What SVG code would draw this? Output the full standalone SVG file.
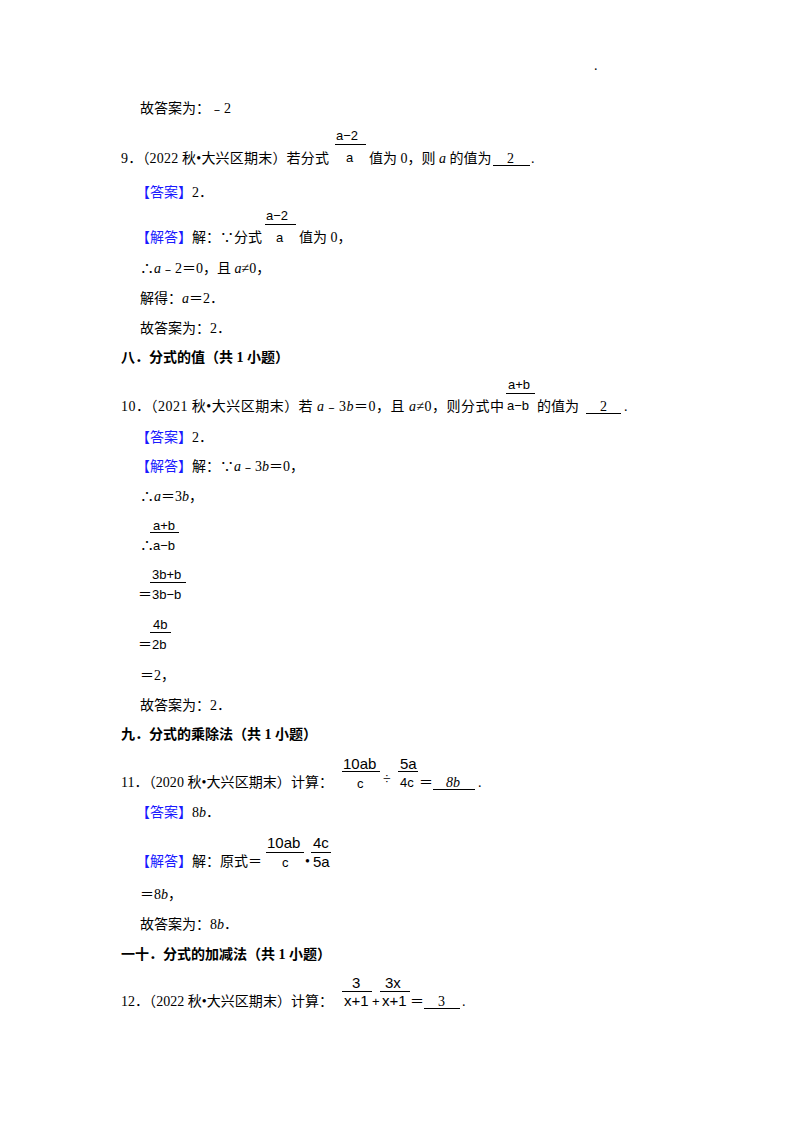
<svg xmlns="http://www.w3.org/2000/svg" width="800" height="1132" viewBox="0 0 800 1132">
<style>
text{font-family:"Liberation Serif","Noto Sans CJK SC",serif;font-size:14px;fill:#000}
.b{font-weight:bold}
.bl{fill:#1a1aff}
.i{font-style:italic}
.f{font-family:"Liberation Sans","Noto Sans CJK SC",sans-serif;font-size:13px}
.fb{font-family:"Liberation Sans",sans-serif;font-size:15px}
line{stroke:#000;stroke-width:1}
</style>
<rect width="800" height="1132" fill="#fff"/>
<text x="594" y="70" font-size="8">.</text>
<text x="140" y="113">故答案为：﹣2</text>

<text x="121" y="163" textLength="208" lengthAdjust="spacing">9．（2022 秋•大兴区期末）若分式</text>
<text class="f" x="336" y="140">a−2</text><line x1="335" y1="144.5" x2="366" y2="144.5"/>
<text class="f" x="346" y="162">a</text>
<text x="369" y="163">值为 0，则 <tspan class="i">a</tspan> 的值为</text>
<line x1="493" y1="165.5" x2="530" y2="165.5"/><text x="507" y="163">2</text><text x="531" y="163">.</text>

<text x="136" y="197"><tspan class="bl">【答案】</tspan>2．</text>
<text class="f" x="266" y="220">a−2</text><line x1="265" y1="224.5" x2="296" y2="224.5"/>
<text class="f" x="276" y="242">a</text>
<text x="136" y="242"><tspan class="bl">【解答】</tspan>解：∵分式</text>
<text x="299" y="242">值为 0，</text>
<text x="140" y="273">∴<tspan class="i">a</tspan>﹣2＝0，且 <tspan class="i">a</tspan>≠0，</text>
<text x="140" y="303">解得：<tspan class="i">a</tspan>＝2．</text>
<text x="140" y="333">故答案为：2．</text>
<text class="b" x="121" y="362">八．分式的值（共 1 小题）</text>

<text x="121" y="411" textLength="383" lengthAdjust="spacing">10．（2021 秋•大兴区期末）若 <tspan class="i">a</tspan>﹣3<tspan class="i">b</tspan>＝0，且 <tspan class="i">a</tspan>≠0，则分式中</text>
<text class="f" x="508" y="389">a+b</text><line x1="506" y1="393.5" x2="535" y2="393.5"/>
<text class="f" x="507" y="410">a−b</text>
<text x="537" y="411">的值为</text>
<line x1="586" y1="413.5" x2="621" y2="413.5"/><text x="600" y="411">2</text><text x="624" y="411">.</text>

<text x="136" y="442"><tspan class="bl">【答案】</tspan>2．</text>
<text x="136" y="471"><tspan class="bl">【解答】</tspan>解：∵<tspan class="i">a</tspan>﹣3<tspan class="i">b</tspan>＝0，</text>
<text x="140" y="501">∴<tspan class="i">a</tspan>＝3<tspan class="i">b</tspan>，</text>
<text class="f" x="153" y="530">a+b</text><line x1="150" y1="532.5" x2="179" y2="532.5"/>
<text x="140" y="550">∴</text><text class="f" x="153" y="550">a−b</text>
<text class="f" x="152" y="579">3b+b</text><line x1="150" y1="582.5" x2="186" y2="582.5"/>
<text x="138" y="599">＝</text><text class="f" x="152" y="599">3b−b</text>
<text class="f" x="153" y="629">4b</text><line x1="150" y1="632.5" x2="171" y2="632.5"/>
<text x="138" y="649">＝</text><text class="f" x="152" y="649">2b</text>
<text x="140" y="680">＝2，</text>
<text x="140" y="710">故答案为：2．</text>
<text class="b" x="121" y="739">九．分式的乘除法（共 1 小题）</text>

<text x="121" y="787" textLength="212" lengthAdjust="spacing">11．（2020 秋•大兴区期末）计算：</text>
<text class="fb" x="343" y="769">10ab</text><line x1="342" y1="771.5" x2="380" y2="771.5"/>
<text class="f" x="357" y="788">c</text>
<text x="383" y="784" font-size="18">÷</text>
<text class="fb" x="400" y="769">5a</text><line x1="398" y1="771.5" x2="418" y2="771.5"/>
<text class="f" x="400" y="787">4c</text>
<text x="419" y="787">＝</text>
<line x1="433" y1="789.5" x2="475" y2="789.5"/><text class="i" x="446" y="787">8b</text><text x="478" y="787">.</text>

<text x="136" y="817"><tspan class="bl">【答案】</tspan>8<tspan class="i">b</tspan>．</text>
<text class="fb" x="267" y="848">10ab</text><line x1="266" y1="852.5" x2="304" y2="852.5"/>
<text class="f" x="282" y="867">c</text>
<text x="305" y="866">•</text>
<text class="fb" x="313" y="848">4c</text><line x1="311" y1="852.5" x2="331" y2="852.5"/>
<text class="fb" x="313" y="867">5a</text>
<text x="136" y="866"><tspan class="bl">【解答】</tspan>解：原式＝</text>
<text x="140" y="899">＝8<tspan class="i">b</tspan>，</text>
<text x="140" y="929">故答案为：8<tspan class="i">b</tspan>．</text>
<text class="b" x="121" y="959">一十．分式的加减法（共 1 小题）</text>

<text x="121" y="1006" textLength="212" lengthAdjust="spacing">12．（2022 秋•大兴区期末）计算：</text>
<text class="fb" x="352" y="988">3</text><line x1="342" y1="991.5" x2="372" y2="991.5"/>
<text class="fb" x="344" y="1006">x+1</text>
<text class="f" x="372" y="1006">+</text>
<text class="fb" x="385" y="988">3x</text><line x1="380" y1="991.5" x2="410" y2="991.5"/>
<text class="fb" x="382" y="1006">x+1</text>
<text x="410" y="1006">＝</text>
<line x1="424" y1="1008.5" x2="460" y2="1008.5"/><text x="438" y="1006">3</text><text x="462" y="1006">.</text>
</svg>
